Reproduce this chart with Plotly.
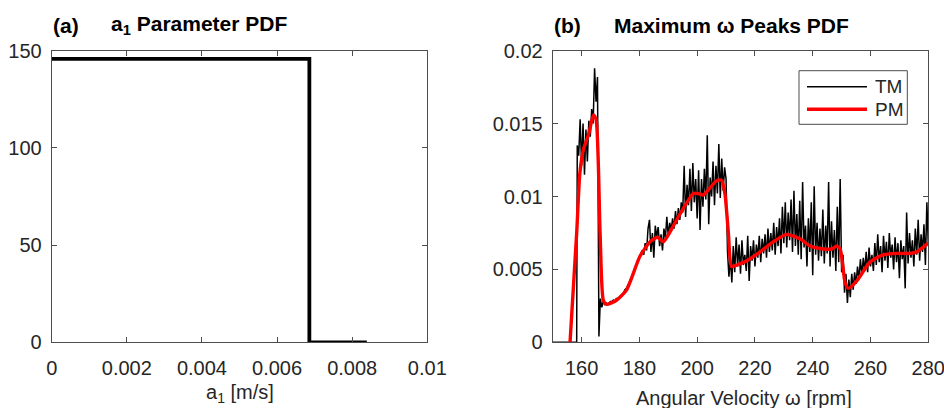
import numpy as np
import plotly.graph_objects as go

# ---------------- data ----------------
# (a) a1 parameter PDF
a1_x = [0.0, 0.00686, 0.00686, 0.00839]
a1_pdf = [145.8, 145.8, 0.0, 0.0]
a_xticks = [0, 0.002, 0.004, 0.006, 0.008, 0.01]
a_xlabels = ["0", "0.002", "0.004", "0.006", "0.008", "0.01"]
a_yticks = [0, 50, 100, 150]
a_ylabels = ["0", "50", "100", "150"]

# (b) TM noisy PDF: zero part, then 0.5 rpm samples from 158.5 to 280
tm_zero_w = [150.0, 158.3]
tm_zero_v = [0.0, 0.0]
tm_start, tm_step = 158.5, 0.5
tm_v = [
    0.0135, 0.0128, 0.0153, 0.0121, 0.0150, 0.0115, 0.0146, 0.0124, 0.0152, 0.0141,
    0.0160, 0.0150, 0.0188, 0.0165, 0.0182, 0.0004, 0.0030, 0.0024, 0.0028, 0.0026,
    0.0027, 0.0026, 0.0027, 0.0028, 0.0028, 0.0029, 0.0028, 0.0030, 0.0030, 0.0031,
    0.0032, 0.0033, 0.0034, 0.0036, 0.0037, 0.0039, 0.0041, 0.0043, 0.0046, 0.0048,
    0.0050, 0.0053, 0.0055, 0.0058, 0.0061, 0.0063, 0.0060, 0.0068, 0.0063, 0.0078,
    0.0084, 0.0062, 0.0075, 0.0058, 0.0080, 0.0072, 0.0079, 0.0066, 0.0074, 0.0063,
    0.0078, 0.0071, 0.0086, 0.0073, 0.0082, 0.0077, 0.0085, 0.0078, 0.0090, 0.0081,
    0.0092, 0.0084, 0.0096, 0.0089, 0.0121, 0.0086, 0.0108, 0.0094, 0.0119, 0.0090,
    0.0123, 0.0096, 0.0112, 0.0085, 0.0118, 0.0077, 0.0112, 0.0093, 0.0119, 0.0098,
    0.0142, 0.0081, 0.0113, 0.0100, 0.0124, 0.0094, 0.0121, 0.0102, 0.0136, 0.0099,
    0.0126, 0.0104, 0.0120, 0.0112, 0.0062, 0.0045, 0.0058, 0.0041, 0.0066, 0.0048,
    0.0072, 0.0052, 0.0067, 0.0047, 0.0070, 0.0053, 0.0060, 0.0049, 0.0073, 0.0042,
    0.0066, 0.0056, 0.0070, 0.0052, 0.0067, 0.0058, 0.0073, 0.0055, 0.0071, 0.0061,
    0.0074, 0.0058, 0.0078, 0.0062, 0.0075, 0.0063, 0.0082, 0.0060, 0.0079, 0.0066,
    0.0085, 0.0061, 0.0093, 0.0068, 0.0096, 0.0065, 0.0089, 0.0070, 0.0098, 0.0062,
    0.0104, 0.0066, 0.0088, 0.0060, 0.0097, 0.0057, 0.0110, 0.0065, 0.0080, 0.0052,
    0.0085, 0.0062, 0.0096, 0.0046, 0.0107, 0.0060, 0.0082, 0.0056, 0.0078, 0.0059,
    0.0091, 0.0054, 0.0080, 0.0061, 0.0110, 0.0052, 0.0083, 0.0058, 0.0077, 0.0049,
    0.0093, 0.0055, 0.0112, 0.0048, 0.0060, 0.0034, 0.0047, 0.0027, 0.0043, 0.0031,
    0.0047, 0.0036, 0.0048, 0.0040, 0.0052, 0.0043, 0.0057, 0.0046, 0.0058, 0.0049,
    0.0062, 0.0048, 0.0065, 0.0052, 0.0060, 0.0049, 0.0068, 0.0053, 0.0074, 0.0055,
    0.0066, 0.0048, 0.0073, 0.0056, 0.0069, 0.0051, 0.0075, 0.0058, 0.0067, 0.0050,
    0.0072, 0.0055, 0.0068, 0.0044, 0.0070, 0.0057, 0.0066, 0.0037, 0.0089, 0.0054,
    0.0075, 0.0058, 0.0070, 0.0052, 0.0078, 0.0060, 0.0084, 0.0056, 0.0074, 0.0062,
    0.0081, 0.0053, 0.0096, 0.0067,
]
tm_w = [tm_start + i * tm_step for i in range(len(tm_v))]

# (b) PM smooth PDF
pm_w = [156.0, 158.3, 159.4, 160.6, 162.5, 164.1, 165.0, 166.4, 167.5, 168.6,
        172.2, 175.6, 180.2, 183.7, 186.3, 188.3, 192.9, 198.7, 200.4, 202.1,
        206.8, 208.5, 209.6, 210.8, 211.9, 213.7, 217.2, 221.8, 226.4, 231.0,
        235.6, 239.1, 243.7, 246.6, 248.3, 249.5, 251.2, 252.3, 255.2, 259.8,
        264.4, 269.1, 273.7, 276.0, 280.0]
pm_v = [0.0, 0.0075, 0.0116, 0.0132, 0.0143, 0.0156, 0.0153, 0.0075, 0.0029, 0.0026,
        0.0029, 0.0036, 0.0059, 0.0069, 0.0072, 0.0069, 0.0084, 0.0102, 0.0102, 0.0101,
        0.0111, 0.0111, 0.0102, 0.0075, 0.0052, 0.0053, 0.0056, 0.0062, 0.0069, 0.0074,
        0.0071, 0.0066, 0.0064, 0.0064, 0.0066, 0.0064, 0.0041, 0.0037, 0.0042, 0.0055,
        0.0060, 0.0061, 0.0061, 0.0062, 0.0068]
b_xticks = [160, 180, 200, 220, 240, 260, 280]
b_xlabels = ["160", "180", "200", "220", "240", "260", "280"]
b_yticks = [0, 0.005, 0.01, 0.015, 0.02]
b_ylabels = ["0", "0.005", "0.01", "0.015", "0.02"]

# ---------------- layout helpers ----------------
W, H = 944, 408
def px(x):
    return x / W
def py(y):
    return 1 - y / H

FONT = "Liberation Sans, Arial, Helvetica, sans-serif"
TXT = "#262626"
AX = "#4d4d4d"

fig = go.Figure()
fig.add_trace(go.Scatter(x=a1_x, y=a1_pdf, mode="lines", xaxis="x", yaxis="y",
                         line=dict(color="black", width=3.8), showlegend=False))
fig.add_trace(go.Scatter(x=tm_zero_w + tm_w, y=tm_zero_v + tm_v, mode="lines",
                         xaxis="x2", yaxis="y2", name="TM",
                         line=dict(color="black", width=1.5), showlegend=False))
fig.add_trace(go.Scatter(x=pm_w, y=pm_v, mode="lines", xaxis="x2", yaxis="y2",
                         name="PM", line=dict(color="#ff0000", width=3.4, shape="spline",
                                              smoothing=0.6), showlegend=False))

ax_common = dict(showline=True, linecolor=AX, linewidth=1, mirror="ticks",
                 ticks="inside", ticklen=5, tickwidth=1, tickcolor=AX,
                 showgrid=False, zeroline=False, automargin=False,
                 ticklabeloverflow="allow",
                 tickfont=dict(family=FONT, size=20, color=TXT))

ydom = [py(342.3), py(50.7)]
fig.update_layout(
    width=W, height=H, autosize=False,
    margin=dict(l=0, r=0, t=0, b=0, pad=0),
    paper_bgcolor="white", plot_bgcolor="white",
    xaxis=dict(domain=[px(51.7), px(427.3)], range=[0, 0.01], anchor="y",
               tickvals=a_xticks, ticktext=a_xlabels, ticklabelstandoff=8, **ax_common),
    yaxis=dict(domain=ydom, range=[0, 150], anchor="x",
               tickvals=a_yticks, ticktext=a_ylabels, ticklabelstandoff=5, **ax_common),
    xaxis2=dict(domain=[px(552.7), px(928.3)], range=[150, 280], anchor="y2",
                tickvals=b_xticks, ticktext=b_xlabels, ticklabelstandoff=8, **ax_common),
    yaxis2=dict(domain=ydom, range=[0, 0.02], anchor="x2",
                tickvals=b_yticks, ticktext=b_ylabels, ticklabelstandoff=5, **ax_common),
)

ann = []
def text(x, y, s, size=20, xanchor="left", bold=False):
    ann.append(dict(x=px(x), y=py(y), xref="paper", yref="paper", text=s,
                    showarrow=False, xanchor=xanchor, yanchor="middle",
                    font=dict(family=FONT, size=size, color="black" if bold else TXT)))

text(50.5, 25, "<b>(a)</b>", size=21, bold=True)
text(109, 25, "<b>a<sub>1</sub> Parameter PDF</b>", size=21, bold=True)
text(551.5, 25, "<b>(b)</b>", size=21, bold=True)
text(612, 25, "<b>Maximum ω Peaks PDF</b>", size=21, bold=True)
text(239.5, 393, "a<sub>1</sub> [m/s]", xanchor="center")
text(743.8, 398, "Angular Velocity ω [rpm]", xanchor="center")
# legend
text(873, 86.7, "TM", size=19)
text(873, 109.3, "PM", size=19)
fig.update_layout(annotations=ann)

shapes = [
    dict(type="rect", xref="paper", yref="paper", x0=px(799), x1=px(907.3),
         y0=py(124.3), y1=py(70.7), line=dict(color=AX, width=1), fillcolor="white", layer="above"),
    dict(type="line", xref="paper", yref="paper", x0=px(807), x1=px(867),
         y0=py(86.7), y1=py(86.7), line=dict(color="black", width=1.5), layer="above"),
    dict(type="line", xref="paper", yref="paper", x0=px(807), x1=px(867),
         y0=py(109.3), y1=py(109.3), line=dict(color="#ff0000", width=3.4), layer="above"),
]
fig.update_layout(shapes=shapes)

fig.write_html("out.html", config={"displayModeBar": False},
               post_script="document.body.style.margin='0';document.body.style.overflow='hidden';")
